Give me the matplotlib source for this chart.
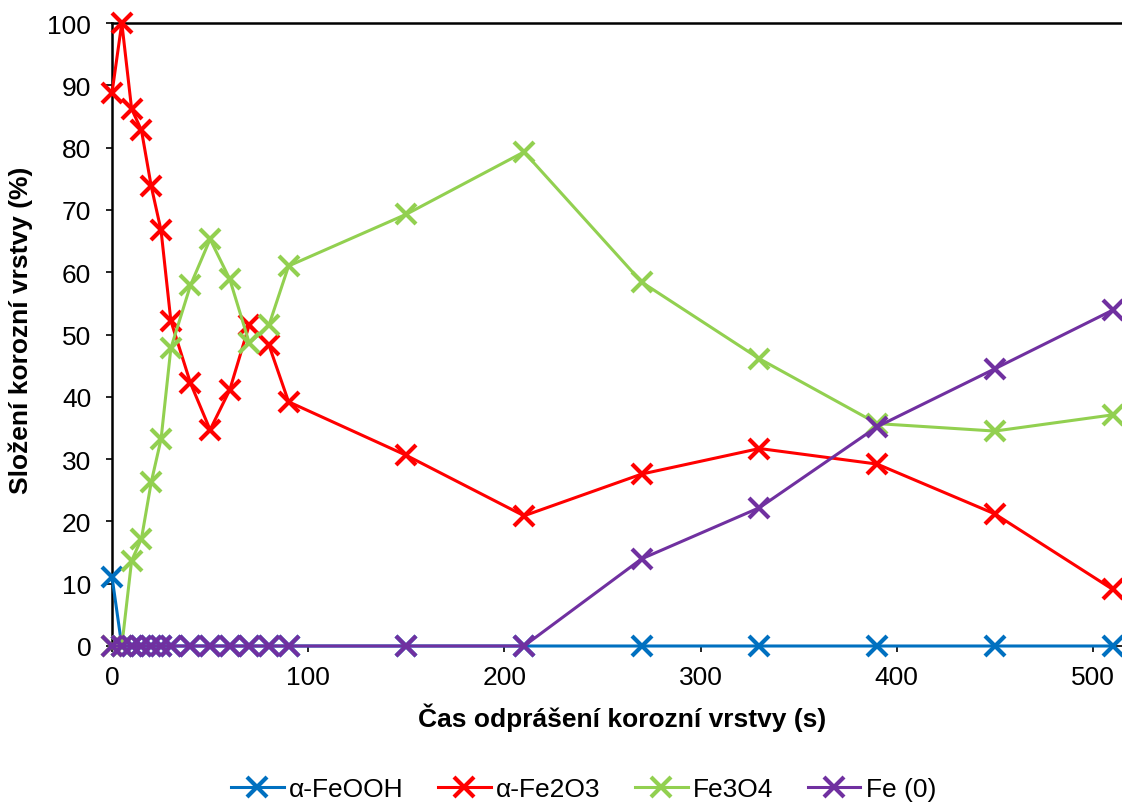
import matplotlib
matplotlib.use("Agg")
import matplotlib.pyplot as plt

plt.rcParams['font.family'] = ['Liberation Sans', 'DejaVu Sans']

time_s = [0, 5, 10, 15, 20, 25, 30, 40, 50, 60, 70, 80, 90, 150, 210, 270, 330, 390, 450, 510]
feooh = [11.1, 0, 0, 0, 0, 0, 0, 0, 0, 0, 0, 0, 0, 0, 0, 0, 0, 0, 0, 0]
fe2o3 = [88.8, 100, 86.2, 82.8, 73.8, 66.7, 52.2, 42.2, 34.7, 41.1, 51.6, 48.3, 39.2,
         30.6, 20.9, 27.6, 31.7, 29.2, 21.2, 9.1]
fe3o4 = [0, 0, 13.7, 17.2, 26.3, 33.2, 47.8, 57.9, 65.3, 58.9, 48.6, 51.5, 61.0,
         69.3, 79.3, 58.4, 46.1, 35.7, 34.5, 37.1]
fe0 = [0, 0, 0, 0, 0, 0, 0, 0, 0, 0, 0, 0, 0, 0, 0, 14.0, 22.2, 35.2, 44.5, 53.9]

series_names = ['α-FeOOH', 'α-Fe2O3', 'Fe3O4', 'Fe (0)']
series_vals = [feooh, fe2o3, fe3o4, fe0]
colors = ['#0070C0', '#FF0000', '#92D050', '#7030A0']

x_ticks = [0, 100, 200, 300, 400, 500]
y_ticks = [0, 10, 20, 30, 40, 50, 60, 70, 80, 90, 100]

fig = plt.figure(figsize=(11.22, 8.03), dpi=100)
ax = fig.add_axes([112/1122, 1-647/803, 1-112/1122, (647-24)/803])

for name, vals, c in zip(series_names, series_vals, colors):
    ax.plot(time_s, vals, color=c, lw=2.2, marker='x', markersize=14.5,
            markeredgewidth=3.0, label=name, clip_on=False, zorder=3)

ax.set_xlim(0, 514.8)
ax.set_ylim(0, 100)
ax.set_xticks(x_ticks)
ax.set_yticks(y_ticks)
ax.tick_params(axis='both', direction='out', length=4, width=1.2, labelsize=19)
ax.tick_params(axis='y', pad=11)
ax.tick_params(axis='x', pad=10)
ax.spines['right'].set_visible(False)
ax.spines['top'].set_linewidth(1.8)
ax.spines['left'].set_linewidth(1.8)
ax.spines['bottom'].set_linewidth(1.2)

ax.set_xlabel('Čas odprášení korozní vrstvy (s)', fontsize=19, fontweight='bold')
ax.set_ylabel('Složení korozní vrstvy (%)', fontsize=19, fontweight='bold')
ax.xaxis.set_label_coords(0.505, -0.091)
ax.yaxis.set_label_coords(-0.078, 0.509)

fig.legend(loc='center', bbox_to_anchor=(0.52, 1-790/803), ncol=4, frameon=False,
           fontsize=19, handlelength=2.0, columnspacing=1.3, handletextpad=0.2)

fig.savefig('out.png', dpi=100)
